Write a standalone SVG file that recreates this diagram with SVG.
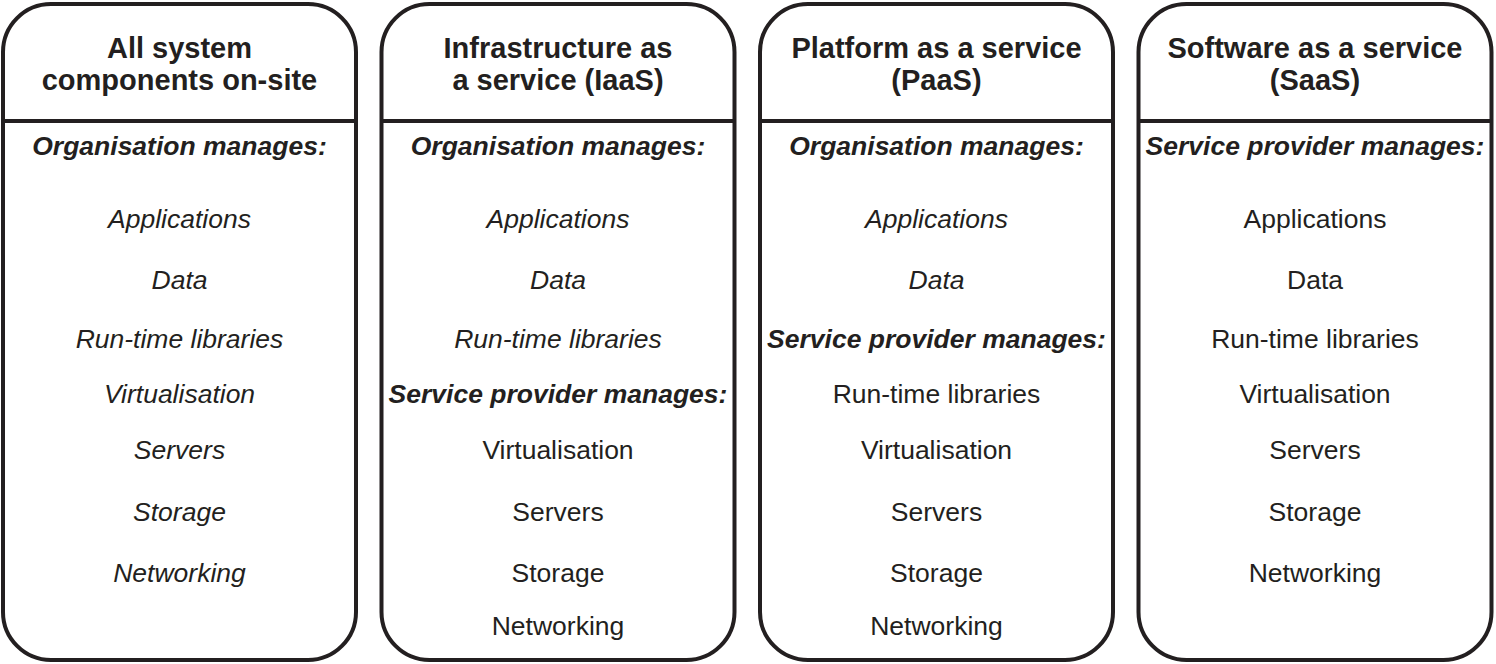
<svg xmlns="http://www.w3.org/2000/svg" width="1496" height="664" viewBox="0 0 1496 664">
<style>
.box{fill:#fff;stroke:#231f20;stroke-width:4}
.div{stroke:#231f20;stroke-width:4}
text{font-family:"Liberation Sans",Arial,sans-serif;fill:#231f20;text-anchor:middle}
.t{font-size:29px;font-weight:bold}
.h{font-size:26.5px;font-weight:bold;font-style:italic}
.i{font-size:26.5px;font-style:italic}
.r{font-size:26.5px}
</style>
<rect width="1496" height="664" fill="#fff"/>
<g id="onsite">
<rect class="box" x="3" y="4" width="353" height="656" rx="48"/>
<line class="div" x1="3" y1="121" x2="356" y2="121"/>
<text class="t" x="179.5" y="58">All system</text>
<text class="t" x="179.5" y="90">components on-site</text>
<text class="h" x="179.5" y="155">Organisation manages:</text>
<text class="i" x="179.5" y="228">Applications</text>
<text class="i" x="179.5" y="289">Data</text>
<text class="i" x="179.5" y="348">Run-time libraries</text>
<text class="i" x="179.5" y="403">Virtualisation</text>
<text class="i" x="179.5" y="459">Servers</text>
<text class="i" x="179.5" y="521">Storage</text>
<text class="i" x="179.5" y="582">Networking</text>
</g>
<g id="iaas">
<rect class="box" x="381.5" y="4" width="353" height="656" rx="48"/>
<line class="div" x1="381.5" y1="121" x2="734.5" y2="121"/>
<text class="t" x="558" y="58">Infrastructure as</text>
<text class="t" x="558" y="90">a service (IaaS)</text>
<text class="h" x="558" y="155">Organisation manages:</text>
<text class="i" x="558" y="228">Applications</text>
<text class="i" x="558" y="289">Data</text>
<text class="i" x="558" y="348">Run-time libraries</text>
<text class="h" x="558" y="403">Service provider manages:</text>
<text class="r" x="558" y="459">Virtualisation</text>
<text class="r" x="558" y="521">Servers</text>
<text class="r" x="558" y="582">Storage</text>
<text class="r" x="558" y="635">Networking</text>
</g>
<g id="paas">
<rect class="box" x="760" y="4" width="353" height="656" rx="48"/>
<line class="div" x1="760" y1="121" x2="1113" y2="121"/>
<text class="t" x="936.5" y="58">Platform as a service</text>
<text class="t" x="936.5" y="90">(PaaS)</text>
<text class="h" x="936.5" y="155">Organisation manages:</text>
<text class="i" x="936.5" y="228">Applications</text>
<text class="i" x="936.5" y="289">Data</text>
<text class="h" x="936.5" y="348">Service provider manages:</text>
<text class="r" x="936.5" y="403">Run-time libraries</text>
<text class="r" x="936.5" y="459">Virtualisation</text>
<text class="r" x="936.5" y="521">Servers</text>
<text class="r" x="936.5" y="582">Storage</text>
<text class="r" x="936.5" y="635">Networking</text>
</g>
<g id="saas">
<rect class="box" x="1138.5" y="4" width="353" height="656" rx="48"/>
<line class="div" x1="1138.5" y1="121" x2="1491.5" y2="121"/>
<text class="t" x="1315" y="58">Software as a service</text>
<text class="t" x="1315" y="90">(SaaS)</text>
<text class="h" x="1315" y="155">Service provider manages:</text>
<text class="r" x="1315" y="228">Applications</text>
<text class="r" x="1315" y="289">Data</text>
<text class="r" x="1315" y="348">Run-time libraries</text>
<text class="r" x="1315" y="403">Virtualisation</text>
<text class="r" x="1315" y="459">Servers</text>
<text class="r" x="1315" y="521">Storage</text>
<text class="r" x="1315" y="582">Networking</text>
</g>
<g id="connectors"></g>
</svg>
